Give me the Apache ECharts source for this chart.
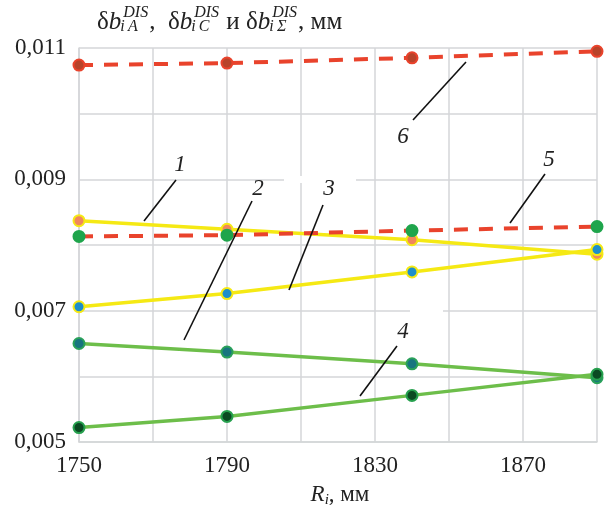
<!DOCTYPE html>
<html>
<head>
<meta charset="utf-8">
<script src="https://cdn.jsdelivr.net/npm/echarts@6/dist/echarts.min.js"></script>
<style>
  html, body { margin: 0; padding: 0; background: #fff; }
  #chart { width: 609px; height: 506px; }
</style>
</head>
<body>
<div id="chart"></div>
<script>
// R_i, mm
var radii = [1750, 1790, 1840, 1890];
// curves 1..6 (mm)
var curve1 = [0.00837, 0.00824, 0.00808, 0.00786];
var curve2 = [0.00650, 0.00637, 0.00619, 0.00598];
var curve3 = [0.00706, 0.00726, 0.00759, 0.00793];
var curve4 = [0.00522, 0.00539, 0.00571, 0.00603];
var curve5 = [0.00813, 0.00815, 0.00822, 0.00828];
var curve6 = [0.01074, 0.01077, 0.01085, 0.01095];
var curveNames = ['1', '2', '3', '4', '5', '6'];

var SERIF = '"Liberation Serif", "Times New Roman", serif';
var INK = '#222';
var GRID = '#d4d6d8';

var YELLOW = '#f5e914', GREEN = '#6dbe4a', RED = '#e9432c';

function pairs(vals) {
    return radii.map(function (r, i) { return [r, vals[i]]; });
}

function curve(name, vals, color, width, dashed, dot, ring) {
    return {
        name: name,
        type: 'line',
        data: pairs(vals),
        symbol: 'circle',
        symbolSize: 11,
        lineStyle: { color: color, width: width, type: dashed ? [14, 11] : 'solid', cap: 'butt' },
        itemStyle: { color: dot, borderColor: ring, borderWidth: 2, opacity: 1 },
        emphasis: { disabled: true },
        animation: false
    };
}

// --- text layout helpers (title with stacked super/subscripts) ---
var ctx = document.createElement('canvas').getContext('2d');
function measure(t, size, italic) {
    ctx.font = (italic ? 'italic ' : '') + size + 'px ' + SERIF;
    return ctx.measureText(t).width;
}
function txt(t, x, y, size, italic) {
    return {
        type: 'text', x: x, y: y, z: 10,
        style: { text: t, fontSize: size, fontFamily: SERIF, fontStyle: italic ? 'italic' : 'normal',
                 fill: INK, verticalAlign: 'middle', align: 'left' }
    };
}

var mainF = 25, scrF = 16;
var titleTokens = [
    ['δ', 0], ['b', 1], ['DIS', 'i\u2009A'], [',\u2002', 0],
    ['δ', 0], ['b', 1], ['DIS', 'i\u2009C'], [' и ', 0],
    ['δ', 0], ['b', 1], ['DIS', 'i\u2009Σ'], [', мм', 0]
];
var titleEls = [];
(function () {
    var x = 97, yMain = 22, ySup = 13, ySub = 27;
    titleTokens.forEach(function (tk) {
        if (typeof tk[1] === 'string') {
            var ws = measure(tk[0], scrF, true), wb = measure(tk[1], scrF, true);
            titleEls.push(txt(tk[0], x + 2, ySup, scrF, true));
            titleEls.push(txt(tk[1], x - 1, ySub, scrF, true));
            x += Math.max(ws + 2, wb - 1) + 1;
        } else {
            titleEls.push(txt(tk[0], x, yMain, mainF, !!tk[1]));
            x += measure(tk[0], mainF, !!tk[1]);
        }
    });
})();

// x-axis title "R_i, мм", centred under the plot
var xNameEls = [];
(function () {
    var wR = measure('R', 23, true), wi = measure('i', 15, true), wm = measure(', мм', 23, false);
    var x = 340 - (wR + wi + wm) / 2, y = 495;
    xNameEls.push(txt('R', x, y, 23, true));
    xNameEls.push(txt('i', x + wR, y + 5, 15, true));
    xNameEls.push(txt(', мм', x + wR + wi, y, 23, false));
})();

// callout numbers with leader lines
var callouts = [
    { label: curveNames[0], tx: 180, ty: 165, from: [176, 180], to: [144, 221] },
    { label: curveNames[1], tx: 258, ty: 189, from: [252, 201], to: [184, 340] },
    { label: curveNames[2], tx: 329, ty: 189, from: [323, 205], to: [289, 290] },
    { label: curveNames[3], tx: 403, ty: 332, from: [397, 346], to: [360, 396] },
    { label: curveNames[4], tx: 549, ty: 160, from: [545, 174], to: [510, 223] },
    { label: curveNames[5], tx: 403, ty: 137, from: [413, 120], to: [466, 62] }
];
var calloutEls = [];
callouts.forEach(function (c) {
    calloutEls.push({
        type: 'line', z: 10,
        shape: { x1: c.from[0], y1: c.from[1], x2: c.to[0], y2: c.to[1] },
        style: { stroke: '#111', lineWidth: 1.6 }
    });
    var el = txt(c.label, c.tx, c.ty, 23, true);
    el.style.align = 'center';
    calloutEls.push(el);
});

// white patches that break the grid behind some callout numbers
var patches = [
    { type: 'rect', z: 1, shape: { x: 284, y: 176, width: 72, height: 7 }, style: { fill: '#fff' } },
    { type: 'rect', z: 1, shape: { x: 410, y: 307, width: 33, height: 7 }, style: { fill: '#fff' } }
];

var chart = echarts.init(document.getElementById('chart'), null, { renderer: 'canvas' });
chart.setOption({
    backgroundColor: '#fff',
    animation: false,
    grid: { left: 79, right: 12, top: 48, bottom: 64, containLabel: false },
    xAxis: {
        type: 'value', min: 1750, max: 1890, interval: 20,
        axisLine: { show: true, lineStyle: { color: GRID, width: 1.5 } },
        axisTick: { show: false },
        splitLine: { show: true, lineStyle: { color: GRID, width: 1.5 } },
        axisLabel: {
            margin: 12, fontSize: 23, fontFamily: SERIF, color: INK,
            formatter: function (v) { return ((v - 1750) % 40 === 0 && v < 1890) ? String(v) : ''; }
        }
    },
    yAxis: {
        type: 'value', min: 0.005, max: 0.011, interval: 0.001,
        axisLine: { show: true, lineStyle: { color: GRID, width: 1.5 } },
        axisTick: { show: false },
        splitLine: { show: true, lineStyle: { color: GRID, width: 1.5 } },
        axisLabel: {
            margin: 13, fontSize: 23, fontFamily: SERIF, color: INK,
            formatter: function (v) {
                return Math.round(v * 1000) % 2 === 1 ? v.toFixed(3).replace('.', ',') : '';
            }
        }
    },
    series: [
        curve(curveNames[0], curve1, YELLOW, 3.5, false, '#f0875c', YELLOW),
        curve(curveNames[2], curve3, YELLOW, 3.5, false, '#1d8fca', YELLOW),
        curve(curveNames[1], curve2, GREEN, 3.5, false, '#17757f', '#2aa15a'),
        curve(curveNames[3], curve4, GREEN, 3.5, false, '#0b4a22', '#26a04e'),
        curve(curveNames[4], curve5, RED, 4, true, '#1fa54c', '#1fa54c'),
        curve(curveNames[5], curve6, RED, 4, true, '#b8432a', RED)
    ],
    graphic: { elements: patches.concat(titleEls, xNameEls, calloutEls) }
});
</script>
</body>
</html>
